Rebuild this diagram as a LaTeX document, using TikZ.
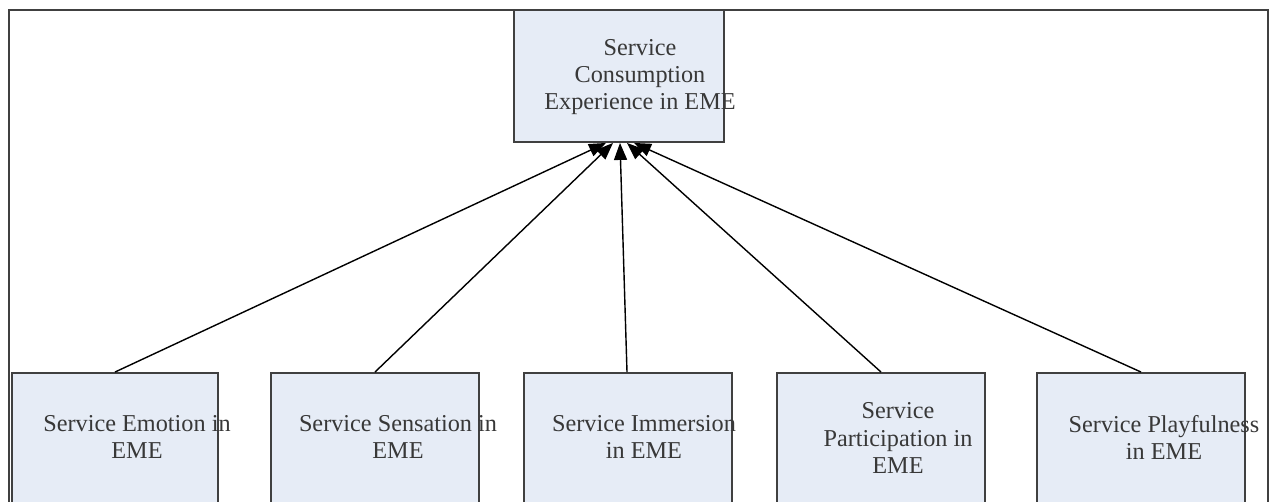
\documentclass[tikz,border=0pt]{standalone}
\usepackage{fontspec}
\setmainfont{Liberation Serif}
\usetikzlibrary{arrows.meta}

\definecolor{boxfill}{HTML}{E6ECF6}
\definecolor{boxline}{HTML}{404040}
\definecolor{txt}{HTML}{383838}

\begin{document}
\begin{tikzpicture}[x=0.02cm, y=-0.02cm]
	\tikzstyle{aspect} = [draw=boxline, fill=boxfill, line width=1.1pt, rectangle, minimum width=4.16cm, minimum height=3.2cm]
	\tikzstyle{label} = [text=txt, align=center, inner sep=0pt, font=\fontsize{13.8pt}{15.4pt}\selectfont]
	\tikzstyle{link} = [line width=.8pt, -{Triangle[length=0.34cm, width=0.26cm]}]
	
	\path[clip] (0,0) rectangle (1271,502);
	\draw[boxline, line width=1.1pt] (9,10) rectangle (1268,540);
	
	% top box
	\node[aspect, minimum width=4.2cm, minimum height=2.64cm] (cons) at (619,76) {};
	\node[label] (consT) at (640,77) {Service\\Consumption\\Experience in EME};
	
	% bottom row
	\node[aspect, minimum width=4.12cm] (emo) at (115,453) {};
	\node[aspect] (sens) at (375,453) {};
	\node[aspect] (imm) at (628,453) {};
	\node[aspect] (part) at (881,453) {};
	\node[aspect] (play) at (1141,453) {};
	
	\node[label] (emoT) at (137,437) {Service Emotion in\\EME};
	\node[label] (sensT) at (398,437) {Service Sensation in\\EME};
	\node[label] (immT) at (644,437) {Service Immersion\\in EME};
	\node[label] (partT) at (898,438) {Service\\Participation in\\EME};
	\node[label] (playT) at (1164,437) {Service Playfulness\\in EME};
	
	\draw[link] (emo.north) to ([xshift=-0.26cm]cons.south);
	\draw[link] (sens.north) to ([xshift=-0.12cm]cons.south);
	\draw[link] ([xshift=-0.02cm]imm.north) to ([xshift=0.02cm]cons.south);
	\draw[link] (part.north) to ([xshift=0.16cm]cons.south);
	\draw[link] (play.north) to ([xshift=0.3cm]cons.south);
\end{tikzpicture}
\end{document}
